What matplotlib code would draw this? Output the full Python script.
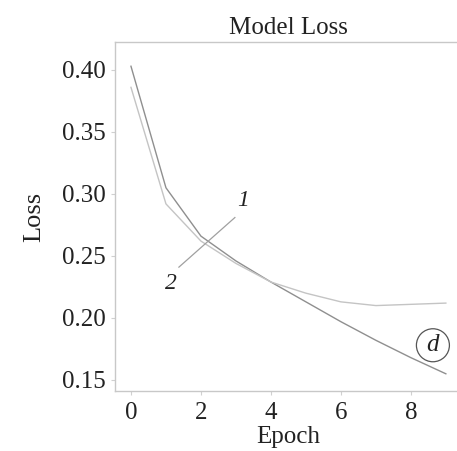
import matplotlib
matplotlib.use("Agg")
import matplotlib.pyplot as plt
import numpy as np

epochs = [0, 1, 2, 3, 4, 5, 6, 7, 8, 9]
loss_1 = [0.403, 0.305, 0.266, 0.246, 0.229, 0.213, 0.197, 0.182, 0.168, 0.155]
loss_2 = [0.386, 0.292, 0.262, 0.244, 0.229, 0.220, 0.213, 0.210, 0.211, 0.212]
xticks = [0, 2, 4, 6, 8]
yticks = [0.15, 0.20, 0.25, 0.30, 0.35, 0.40]

plt.rcParams['font.family'] = ['Liberation Serif', 'DejaVu Serif']

fig = plt.figure(figsize=(4.57, 4.51), dpi=100)
ax = fig.add_axes([0.2516, 0.133, 0.759, 0.774])

ax.plot(epochs, loss_1, color='#8f8f8f', lw=1.0)
ax.plot(epochs, loss_2, color='#c4c4c4', lw=1.0)

ax.set_xlim(-0.457, 9.457)
ax.set_ylim(0.1411, 0.4226)
ax.set_xticks(xticks)
ax.set_yticks(yticks)
ax.set_yticklabels([f"{v:.2f}" for v in yticks])

for s in ax.spines.values():
    s.set_color('#c8c8c8')
    s.set_linewidth(1.0)
ax.spines['right'].set_visible(False)

ax.tick_params(axis='both', colors='#d0d0d0', length=3, width=0.8,
               labelsize=18, labelcolor='#222222', pad=4)
ax.tick_params(axis='x', pad=5)

ax.set_title("Model Loss", fontsize=18, color='#222222', pad=6)
ax.set_xlabel("Epoch", fontsize=18, color='#222222', labelpad=1)
ax.set_ylabel("Loss", fontsize=19, color='#222222', labelpad=12)

# leader line and labels
ax.plot([1.37, 2.97], [0.241, 0.281], color='#a0a0a0', lw=0.9)
ax.text(3.2, 0.295, "1", fontsize=17, style='italic', color='#222222',
        ha='center', va='center')
ax.text(1.14, 0.228, "2", fontsize=17, style='italic', color='#222222',
        ha='center', va='center')

ax.text(8.63, 0.178, "d", fontsize=18, style='italic', color='#222222',
        ha='center', va='center',
        bbox=dict(boxstyle='circle,pad=0.22', fc='none', ec='#555555', lw=0.9))

fig.savefig("out.png", dpi=100)
